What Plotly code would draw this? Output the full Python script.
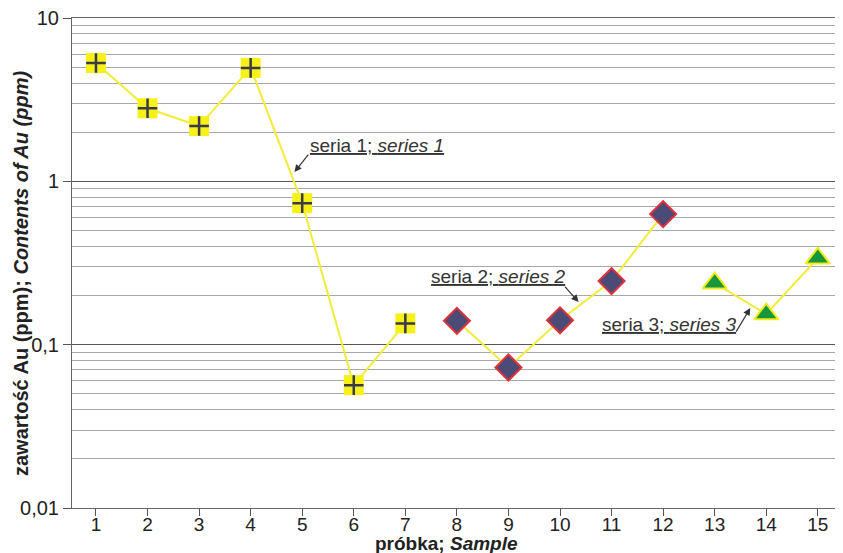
import plotly.graph_objects as go

# data
s1_x = [1, 2, 3, 4, 5, 6, 7]
s1_y = [5.3, 2.8, 2.18, 4.95, 0.735, 0.0565, 0.135]
s2_x = [8, 9, 10, 11, 12]
s2_y = [0.140, 0.0725, 0.141, 0.245, 0.63]
s3_x = [13, 14, 15]
s3_y = [0.238, 0.154, 0.338]
x_ticks = list(range(1, 16))
y_tickvals = [0.01, 0.1, 1, 10]
y_ticktext = ["0,01", "0,1", "1", "10"]
minor_vals = [m * d for d in [0.01, 0.1, 1] for m in range(2, 10)]

LINE = "#f2ec3a"
SANS = "Liberation Sans, Arial, sans-serif"

fig = go.Figure()
# series 1
fig.add_trace(go.Scatter(x=s1_x, y=s1_y, mode="lines+markers",
                         line=dict(color=LINE, width=2),
                         marker=dict(symbol="square", size=20, color="#f7f11a", line=dict(width=0))))
fig.add_trace(go.Scatter(x=s1_x, y=s1_y, mode="markers",
                         marker=dict(symbol="cross-thin", size=14, line=dict(color="#3a3a4a", width=2.5))))
# series 2
fig.add_trace(go.Scatter(x=s2_x, y=s2_y, mode="lines+markers",
                         line=dict(color=LINE, width=2),
                         marker=dict(symbol="diamond", size=20, color="#4b4b78", line=dict(color="#e0303a", width=2))))
# series 3
fig.add_trace(go.Scatter(x=s3_x, y=s3_y, mode="lines+markers",
                         line=dict(color=LINE, width=2),
                         marker=dict(symbol="triangle-up", size=21, color="#17963c", line=dict(color="#f2ec1a", width=2))))

ann_font = dict(family=SANS, size=19, color="#333333")
anns = [
    dict(x=6.45, y=0.222, text="<u>seria 1; <i>series 1</i></u>"),
    dict(x=8.81, y=-0.585, text="<u>seria 2; <i>series 2</i></u>"),
    dict(x=12.12, y=-0.875, text="<u>seria 3; <i>series 3</i></u>"),
]
for a in anns:
    fig.add_annotation(x=a["x"], y=a["y"], text=a["text"], showarrow=False,
                       xref="x", yref="y", font=ann_font)
arrows = [
    dict(x=4.85, y=0.057, ax=15, ay=-19),
    dict(x=10.36, y=-0.739, ax=-15, ay=-17),
    dict(x=13.69, y=-0.776, ax=-15, ay=25),
]
for a in arrows:
    fig.add_annotation(x=a["x"], y=a["y"], ax=a["ax"], ay=a["ay"], text="",
                       showarrow=True, arrowhead=2, arrowsize=1.2, arrowwidth=1.2,
                       arrowcolor="#333333", xref="x", yref="y")

# axis titles
fig.add_annotation(x=-0.066, y=0.48, xref="paper", yref="paper", showarrow=False,
                   text="<b>zawartość Au (ppm); <i>Contents of Au (ppm)</i></b>", textangle=-90,
                   xanchor="center", yanchor="middle", font=dict(family=SANS, size=20, color="#222"))
fig.add_annotation(x=0.4876, y=-0.072, xref="paper", yref="paper", showarrow=False,
                   text="<b>próbka; <i>Sample</i></b>",
                   xanchor="center", yanchor="middle", font=dict(family=SANS, size=19, color="#222"))

fig.update_layout(
    width=843, height=553,
    margin=dict(l=64, r=10, t=10, b=53, autoexpand=False),
    paper_bgcolor="white", plot_bgcolor="white",
    showlegend=False,
    xaxis=dict(range=[0.535, 15.45], tickvals=x_ticks, ticks="outside", ticklen=7,
               tickcolor="#555", showgrid=False, zeroline=False, automargin=False,
               showline=True, linecolor="#666", mirror=True, ticklabelstandoff=-8,
               ticklabeloverflow="allow",
               tickfont=dict(family=SANS, size=19, color="#222")),
    yaxis=dict(type="log", range=[-2, 1], tickvals=y_tickvals, ticktext=y_ticktext,
               ticks="outside", ticklen=8, tickcolor="#555", automargin=False,
               ticklabeloverflow="allow",
               showgrid=True, gridcolor="#555", gridwidth=1,
               showline=True, linecolor="#666", mirror=True,
               tickfont=dict(family=SANS, size=20, color="#222"),
               minor=dict(tickvals=minor_vals, showgrid=True, gridcolor="#a8a8a8", gridwidth=1, ticks="")),
)

fig.write_html("out.html")
